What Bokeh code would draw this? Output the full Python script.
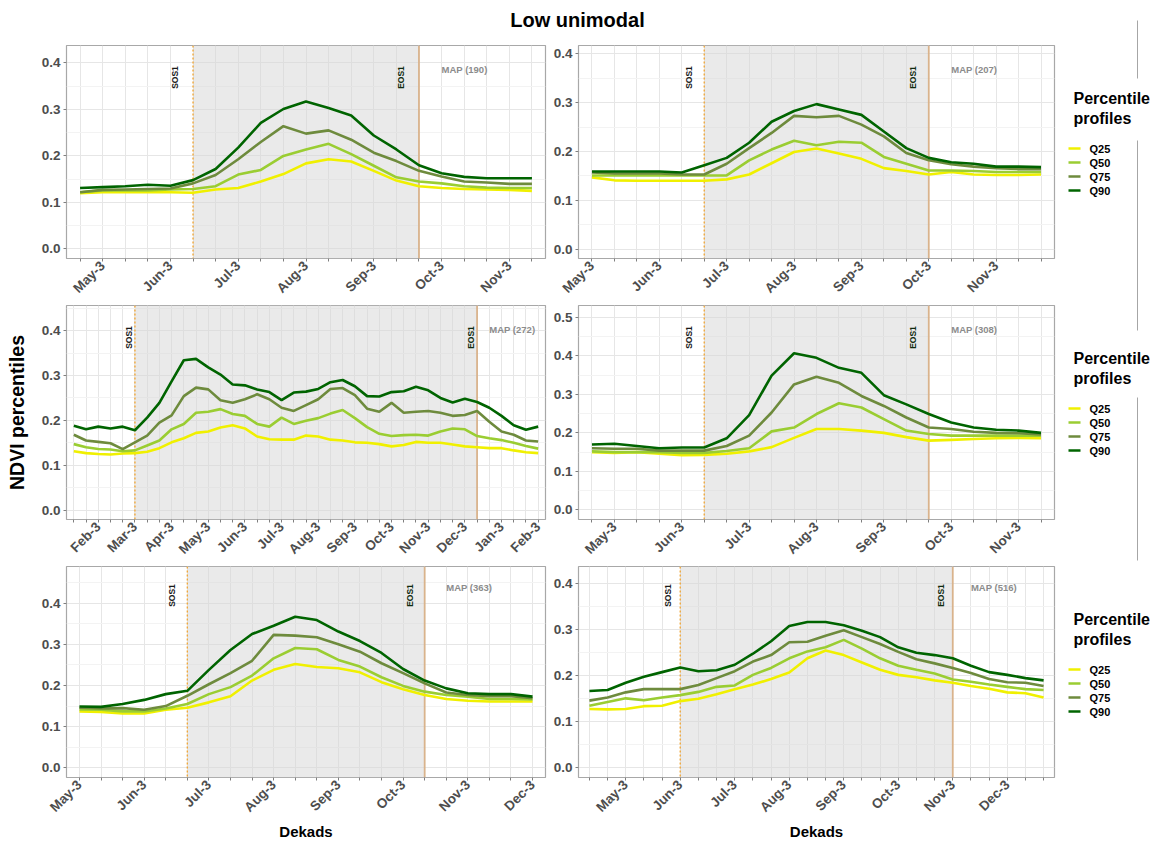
from math import pi
from bokeh.plotting import figure
from bokeh.models import Range1d, FixedTicker, NumeralTickFormatter, BoxAnnotation, Span, Label
from bokeh.layouts import row, column
from bokeh.embed import file_html
from bokeh.resources import INLINE
from bokeh.core.properties import value

FONT = "Liberation Sans"

# ---------------- data ----------------
series_names = ["Q25", "Q50", "Q75", "Q90"]
series_colors = ["#F0F000", "#9ACD32", "#6E8B3D", "#006400"]

# Panel 1 (MAP 190)
q25_1 = [0.120, 0.122, 0.122, 0.122, 0.122, 0.121, 0.128, 0.131, 0.145, 0.161, 0.184, 0.193, 0.188, 0.168, 0.147, 0.135, 0.131, 0.129, 0.128, 0.127, 0.125]
q50_1 = [0.122, 0.126, 0.126, 0.126, 0.128, 0.129, 0.135, 0.160, 0.170, 0.200, 0.214, 0.226, 0.204, 0.179, 0.154, 0.145, 0.141, 0.135, 0.132, 0.131, 0.131]
q75_1 = [0.122, 0.127, 0.128, 0.129, 0.130, 0.141, 0.159, 0.193, 0.230, 0.264, 0.248, 0.255, 0.235, 0.207, 0.189, 0.168, 0.156, 0.145, 0.143, 0.140, 0.140]
q90_1 = [0.131, 0.133, 0.135, 0.138, 0.136, 0.148, 0.172, 0.218, 0.271, 0.301, 0.317, 0.303, 0.287, 0.244, 0.214, 0.180, 0.163, 0.155, 0.152, 0.152, 0.152]

# Panel 2 (MAP 207)
q25_2 = [0.147, 0.141, 0.140, 0.140, 0.140, 0.140, 0.143, 0.153, 0.176, 0.199, 0.206, 0.196, 0.185, 0.166, 0.160, 0.153, 0.158, 0.153, 0.152, 0.152, 0.153]
q50_2 = [0.151, 0.151, 0.151, 0.151, 0.151, 0.151, 0.151, 0.182, 0.204, 0.222, 0.213, 0.220, 0.218, 0.189, 0.175, 0.161, 0.161, 0.160, 0.158, 0.158, 0.158]
q75_2 = [0.157, 0.155, 0.155, 0.155, 0.153, 0.153, 0.175, 0.207, 0.238, 0.273, 0.270, 0.273, 0.255, 0.231, 0.197, 0.182, 0.174, 0.169, 0.166, 0.164, 0.164]
q90_2 = [0.159, 0.159, 0.159, 0.159, 0.157, 0.172, 0.187, 0.218, 0.261, 0.283, 0.297, 0.286, 0.275, 0.241, 0.207, 0.187, 0.178, 0.175, 0.169, 0.169, 0.168]

# Panel 3 (MAP 272)
q25_3 = [0.131, 0.127, 0.125, 0.124, 0.126, 0.127, 0.130, 0.138, 0.151, 0.160, 0.172, 0.175, 0.184, 0.189, 0.182, 0.164, 0.158, 0.157, 0.157, 0.166,
         0.164, 0.157, 0.155, 0.151, 0.150, 0.147, 0.142, 0.145, 0.152, 0.150, 0.150, 0.146, 0.142, 0.140, 0.138, 0.138, 0.133, 0.129, 0.127]
q50_3 = [0.147, 0.140, 0.136, 0.135, 0.131, 0.133, 0.144, 0.155, 0.180, 0.192, 0.217, 0.219, 0.225, 0.214, 0.210, 0.192, 0.186, 0.206, 0.192, 0.199,
         0.205, 0.215, 0.223, 0.205, 0.185, 0.170, 0.165, 0.167, 0.168, 0.166, 0.175, 0.182, 0.180, 0.165, 0.160, 0.156, 0.150, 0.143, 0.137]
q75_3 = [0.168, 0.155, 0.152, 0.149, 0.136, 0.151, 0.166, 0.195, 0.211, 0.254, 0.273, 0.269, 0.245, 0.239, 0.247, 0.258, 0.247, 0.228, 0.221, 0.234,
         0.247, 0.270, 0.272, 0.256, 0.226, 0.219, 0.239, 0.217, 0.219, 0.221, 0.217, 0.210, 0.212, 0.221, 0.197, 0.175, 0.168, 0.155, 0.153]
q90_3 = [0.188, 0.180, 0.186, 0.182, 0.186, 0.178, 0.206, 0.239, 0.287, 0.334, 0.337, 0.318, 0.302, 0.280, 0.278, 0.269, 0.263, 0.245, 0.262, 0.264,
         0.270, 0.285, 0.290, 0.276, 0.254, 0.253, 0.263, 0.265, 0.275, 0.267, 0.250, 0.240, 0.248, 0.241, 0.228, 0.210, 0.189, 0.179, 0.186]

# Panel 4 (MAP 308)
q25_4 = [0.150, 0.148, 0.150, 0.146, 0.142, 0.143, 0.146, 0.152, 0.163, 0.187, 0.210, 0.210, 0.206, 0.200, 0.189, 0.180, 0.182, 0.184, 0.186, 0.187, 0.186]
q50_4 = [0.152, 0.150, 0.150, 0.150, 0.148, 0.148, 0.153, 0.160, 0.204, 0.214, 0.249, 0.277, 0.266, 0.236, 0.206, 0.197, 0.193, 0.193, 0.193, 0.193, 0.193]
q75_4 = [0.160, 0.159, 0.159, 0.154, 0.154, 0.154, 0.166, 0.193, 0.253, 0.326, 0.346, 0.330, 0.296, 0.270, 0.240, 0.214, 0.210, 0.203, 0.200, 0.199, 0.196]
q90_4 = [0.170, 0.172, 0.166, 0.160, 0.162, 0.162, 0.186, 0.246, 0.349, 0.407, 0.395, 0.369, 0.356, 0.298, 0.274, 0.249, 0.227, 0.214, 0.208, 0.206, 0.200]

# Panel 5 (MAP 363)
q25_5 = [0.137, 0.136, 0.132, 0.132, 0.141, 0.146, 0.159, 0.174, 0.212, 0.238, 0.252, 0.245, 0.242, 0.232, 0.208, 0.191, 0.177, 0.167, 0.163, 0.161, 0.161, 0.161]
q50_5 = [0.142, 0.141, 0.137, 0.137, 0.144, 0.155, 0.179, 0.196, 0.224, 0.266, 0.291, 0.288, 0.262, 0.246, 0.220, 0.199, 0.185, 0.177, 0.173, 0.167, 0.167, 0.166]
q75_5 = [0.146, 0.144, 0.145, 0.141, 0.150, 0.175, 0.203, 0.230, 0.260, 0.323, 0.321, 0.317, 0.300, 0.282, 0.254, 0.230, 0.205, 0.183, 0.177, 0.174, 0.174, 0.169]
q90_5 = [0.149, 0.148, 0.155, 0.165, 0.179, 0.187, 0.238, 0.286, 0.325, 0.345, 0.367, 0.359, 0.331, 0.308, 0.279, 0.240, 0.212, 0.193, 0.181, 0.179, 0.179, 0.173]

# Panel 6 (MAP 516)
q25_6 = [0.128, 0.127, 0.128, 0.134, 0.135, 0.145, 0.150, 0.160, 0.171, 0.181, 0.193, 0.207, 0.238, 0.255, 0.245, 0.229, 0.213, 0.202, 0.197, 0.190, 0.185, 0.178, 0.172, 0.164, 0.162, 0.153]
q50_6 = [0.135, 0.143, 0.151, 0.147, 0.153, 0.158, 0.165, 0.176, 0.179, 0.202, 0.217, 0.238, 0.253, 0.262, 0.278, 0.259, 0.238, 0.222, 0.213, 0.205, 0.192, 0.187, 0.181, 0.176, 0.171, 0.169]
q75_6 = [0.146, 0.153, 0.164, 0.171, 0.171, 0.171, 0.180, 0.195, 0.210, 0.231, 0.245, 0.273, 0.274, 0.287, 0.299, 0.284, 0.269, 0.252, 0.236, 0.227, 0.217, 0.206, 0.193, 0.186, 0.185, 0.178]
q90_6 = [0.167, 0.169, 0.185, 0.198, 0.208, 0.218, 0.210, 0.212, 0.224, 0.248, 0.275, 0.308, 0.317, 0.317, 0.310, 0.298, 0.284, 0.262, 0.250, 0.245, 0.238, 0.222, 0.208, 0.202, 0.195, 0.190]

# Season markers (dekad index), MAP values
sos_idx = [5, 5, 5, 5, 5, 5]
eos_idx = [15, 15, 33, 15, 16, 20]
map_values = [190, 207, 272, 308, 363, 516]

# Tick labels (shown every third dekad) and index of first labelled dekad
months_may_nov = ["May-3", "Jun-3", "Jul-3", "Aug-3", "Sep-3", "Oct-3", "Nov-3"]
months_may_dec = ["May-3", "Jun-3", "Jul-3", "Aug-3", "Sep-3", "Oct-3", "Nov-3", "Dec-3"]
months_feb_feb = ["Feb-3", "Mar-3", "Apr-3", "May-3", "Jun-3", "Jul-3", "Aug-3", "Sep-3", "Oct-3", "Nov-3", "Dec-3", "Jan-3", "Feb-3"]
tick_labels = [months_may_nov, months_may_nov, months_feb_feb, months_may_nov, months_may_dec, months_may_dec]
first_label = [1, 0, 2, 1, 0, 2]

y_ticks = [0.0, 0.1, 0.2, 0.3, 0.4, 0.5]
y_limits = [(-0.0205, 0.4375), (-0.019, 0.417), (-0.021, 0.456), (-0.025, 0.531), (-0.0235, 0.489), (-0.021, 0.4375)]

panels = [
    [q25_1, q50_1, q75_1, q90_1],
    [q25_2, q50_2, q75_2, q90_2],
    [q25_3, q50_3, q75_3, q90_3],
    [q25_4, q50_4, q75_4, q90_4],
    [q25_5, q50_5, q75_5, q90_5],
    [q25_6, q50_6, q75_6, q90_6],
]

# ---------------- layout geometry ----------------
FRAME_W = 479
LEFT_W = 66 + FRAME_W + 5
RIGHT_W = 25 + FRAME_W + 4
HEADER_H = 36
row_geom = [(9, 215, 44), (1, 216, 44), (1, 216, 61)]  # top border, frame height, bottom border
label_dx = [-0.8, -0.7, -0.5, -0.7, -0.7, -0.67]


def make_panel(k):
    r = k // 2
    is_left = (k % 2 == 0)
    top, fh, bot = row_geom[r]
    data = panels[k]
    n = len(data[0])
    xs = list(range(n))
    lo, hi = y_limits[k]
    p = figure(width=LEFT_W if is_left else RIGHT_W, height=top + fh + bot,
               x_range=Range1d(-0.6, n - 1 + 0.6), y_range=Range1d(lo, hi),
               output_backend="svg", toolbar_location=None,
               min_border_left=66 if is_left else 25, min_border_right=5 if is_left else 4,
               min_border_top=top, min_border_bottom=bot)
    p.background_fill_color = "white"
    p.border_fill_color = "white"
    p.outline_line_color = "#A8A8A8"
    p.outline_line_width = 1.2

    # axes / ticks
    xt = FixedTicker(ticks=xs)
    p.xaxis.ticker = xt
    p.xgrid.ticker = xt
    overrides = {i: "" for i in xs}
    for j, lab in enumerate(tick_labels[k]):
        overrides[first_label[k] + 3 * j] = lab
    p.xaxis.major_label_overrides = overrides
    p.xaxis.major_label_orientation = pi / 4
    yt = FixedTicker(ticks=[t for t in y_ticks if t <= hi],
                     minor_ticks=[t + 0.05 for t in y_ticks if t + 0.05 <= hi])
    p.yaxis.ticker = yt
    p.ygrid.ticker = yt
    p.yaxis.formatter = NumeralTickFormatter(format="0.0")
    for ax, fs in ((p.xaxis[0], "13.5px"), (p.yaxis[0], "13.5px")):
        ax.axis_line_color = None
        ax.major_tick_line_color = "#7F7F7F"
        ax.major_tick_in = 0
        ax.major_tick_out = 3
        ax.minor_tick_line_color = None
        ax.major_label_text_font = FONT
        ax.major_label_text_font_style = "bold"
        ax.major_label_text_font_size = fs
        ax.major_label_text_color = "#4D4D4D"
        ax.major_label_standoff = 2
        ax.axis_label_text_font = FONT
        ax.axis_label_text_font_style = "bold"
        ax.axis_label_text_color = "black"
    p.xgrid.grid_line_color = "#E6E6E6"
    p.ygrid.grid_line_color = "#E6E6E6"
    p.ygrid.minor_grid_line_color = "#F3F3F3"

    # growing season shading and markers
    s, e = sos_idx[k], eos_idx[k]
    p.add_layout(BoxAnnotation(left=s, right=e, fill_color="#D6D6D6", fill_alpha=0.5,
                               line_color=None, level="underlay"))
    p.add_layout(Span(location=s, dimension="height", line_color="#F2A93B",
                      line_dash="2 2", line_width=1.4, level="underlay"))
    p.add_layout(Span(location=e, dimension="height", line_color="#D9B38C",
                      line_width=1.8, level="underlay"))

    for vals, col, nm in zip(data, series_colors, series_names):
        p.line(xs, vals, line_color=col, line_width=2.6, name=nm)

    p.add_layout(Label(x=s + label_dx[k], y=fh - 34, y_units="screen", text="SOS1", angle=pi / 2,
                       text_align="center", text_baseline="middle", text_font=FONT,
                       text_font_style="bold", text_font_size="8.5px", text_color="#1A1A1A"))
    p.add_layout(Label(x=e + label_dx[k], y=fh - 34, y_units="screen", text="EOS1", angle=pi / 2,
                       text_align="center", text_baseline="middle", text_font=FONT,
                       text_font_style="bold", text_font_size="8.5px", text_color="#0F2A0F"))
    p.add_layout(Label(x=e + 1, y=fh - 26, y_units="screen", text=f"MAP ({map_values[k]})",
                       text_align="left", text_baseline="middle", text_font=FONT,
                       text_font_style="bold", text_font_size="9.5px", text_color="#8C8C8C"))
    if k == 2:
        p.yaxis.axis_label = "NDVI percentiles"
        p.yaxis.axis_label_text_font_size = "19.5px"
        p.yaxis.axis_label_standoff = 11
    if r == 2:
        p.xaxis.axis_label = "Dekads"
        p.xaxis.axis_label_text_font_size = "15px"
        p.xaxis.axis_label_standoff = 0
    return p


plots = [make_panel(k) for k in range(6)]

# header with overall title
header = figure(width=LEFT_W + RIGHT_W, height=HEADER_H, x_range=Range1d(0, 1), y_range=Range1d(0, 1),
                output_backend="svg", toolbar_location=None, min_border=0,
                x_axis_location=None, y_axis_location=None)
header.outline_line_color = None
header.grid.grid_line_color = None
header.add_layout(Label(x=577, y=HEADER_H - 19, x_units="screen", y_units="screen", text="Low unimodal",
                        text_align="center", text_baseline="middle", text_font=FONT,
                        text_font_style="bold", text_font_size="20px", text_color="black"))

# legend column
TOTAL_H = HEADER_H + sum(t + h + b for t, h, b in row_geom)
LEG_X0 = LEFT_W + RIGHT_W
LEG_W = 1162 - LEG_X0
leg = figure(width=LEG_W, height=TOTAL_H, x_range=Range1d(LEG_X0, 1162), y_range=Range1d(TOTAL_H, 0),
             output_backend="svg", toolbar_location=None, min_border=0,
             x_axis_location=None, y_axis_location=None)
leg.outline_line_color = None
leg.grid.grid_line_color = None
leg.segment(x0=[1137] * 3, y0=[20, 140, 397], x1=[1137] * 3, y1=[78, 330, 560],
            line_color="#A6A6A6", line_width=1)
frame_tops = []
acc = HEADER_H
for t, h, b in row_geom:
    frame_tops.append(acc + t)
    acc += t + h + b
for ft in frame_tops:
    leg.text(x=[1073, 1073], y=[ft + 53, ft + 73], text=["Percentile", "profiles"],
             text_font=value(FONT), text_font_style="bold", text_font_size="16px",
             text_baseline="middle", text_align="left", text_color="black")
    ys = [ft + 103 + 14 * i for i in range(4)]
    leg.segment(x0=[1068] * 4, y0=ys, x1=[1080] * 4, y1=ys, line_color=series_colors, line_width=2.6)
    leg.text(x=[1089] * 4, y=ys, text=series_names, text_font=value(FONT), text_font_style="bold",
             text_font_size="11px", text_baseline="middle", text_align="left", text_color="black")

layout = row(column(header, row(plots[0], plots[1]), row(plots[2], plots[3]), row(plots[4], plots[5])), leg)

open("out.html", "w").write(file_html(layout, INLINE))
